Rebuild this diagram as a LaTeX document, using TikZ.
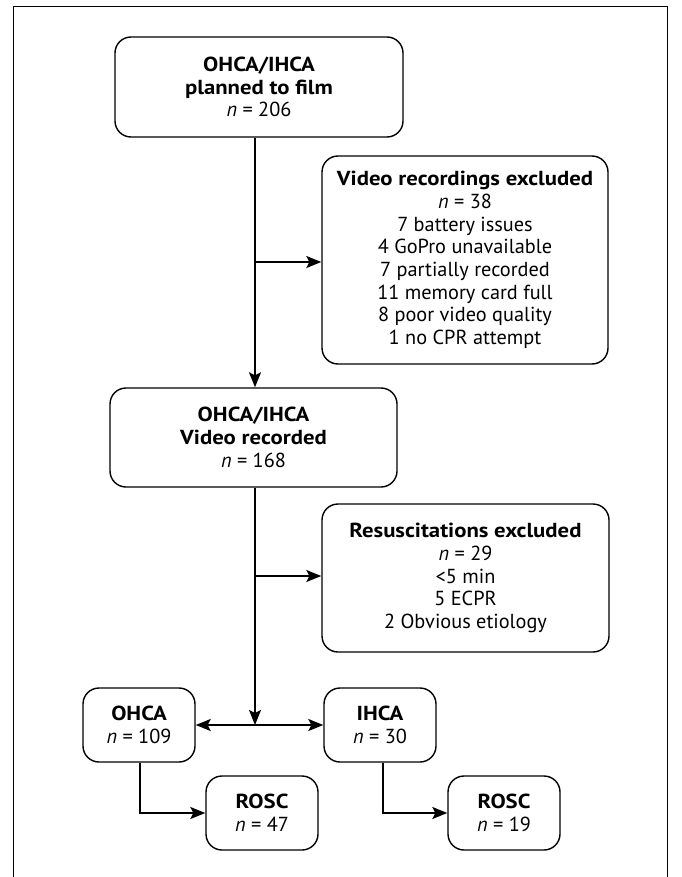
\documentclass[tikz,border=0pt]{standalone}
\usepackage{fontspec}
\setmainfont{PT Sans}[BoldFeatures={FakeStretch=1.12}]
\usetikzlibrary{arrows.meta}
\begin{document}
\begin{tikzpicture}[x=1pt,y=-1pt,
  box/.style={draw, line width=1.4pt, rounded corners=16pt, align=center, inner sep=0pt,
    font=\fontsize{20.3}{22.7}\selectfont},
  tip/.tip={Stealth[length=15pt,width=12pt,inset=3pt]},
  arr/.style={line width=1.4pt, -tip},
  darr/.style={line width=1.4pt, tip-tip}]
\useasboundingbox (0,0) rectangle (681,877);
\draw[line width=1pt] (13,877) -- (13,7) -- (667,7) -- (667,877);
\coordinate (spine) at (255,0);
\node[box, minimum width=288pt, minimum height=100pt] (plan) at (259,87)
  {\textbf{OHCA/IHCA}\\\textbf{planned to film}\\\textit{n} = 206};
\node[box, minimum width=286pt, minimum height=208pt] (exA) at (465,260)
  {\textbf{Video recordings excluded}\\\textit{n} = 38\\7 battery issues\\4 GoPro unavailable\\7 partially recorded\\11 memory card full\\8 poor video quality\\1 no CPR attempt};
\node[box, minimum width=287pt, minimum height=99pt] (vid) at (253.5,437.5)
  {\textbf{OHCA/IHCA}\\\textbf{Video recorded}\\\textit{n} = 168};
\node[box, minimum width=287pt, minimum height=148pt] (exB) at (465.5,578)
  {\textbf{Resuscitations excluded}\\\textit{n} = 29\\<5 min\\5 ECPR\\2 Obvious etiology};
\node[box, minimum width=112pt, minimum height=74pt] (ohca) at (139,725)
  {\textbf{OHCA}\\\textit{n} = 109};
\node[box, minimum width=112pt, minimum height=74pt] (ihca) at (380,725)
  {\textbf{IHCA}\\\textit{n} = 30};
\node[box, minimum width=112pt, minimum height=74pt] (roscA) at (262,813)
  {\textbf{ROSC}\\\textit{n} = 47};
\node[box, minimum width=112pt, minimum height=74pt] (roscB) at (504,813)
  {\textbf{ROSC}\\\textit{n} = 19};
\coordinate (bA) at (255,262);
\coordinate (bB) at (255,576);
\coordinate (junc) at (255,725);
\draw[arr] (plan.south -| spine) -- (vid.north -| spine);
\draw[arr] (bA) -- (bA -| exA.west);
\draw[arr] (vid.south -| spine) -- (junc);
\draw[arr] (bB) -- (bB -| exB.west);
\draw[darr] (ohca.east) -- (ihca.west);
\draw[arr] (ohca.south) ++(1,0) |- (roscA.west);
\draw[arr] (ihca.south) ++(3,0) |- (roscB.west);
\end{tikzpicture}
\end{document}
